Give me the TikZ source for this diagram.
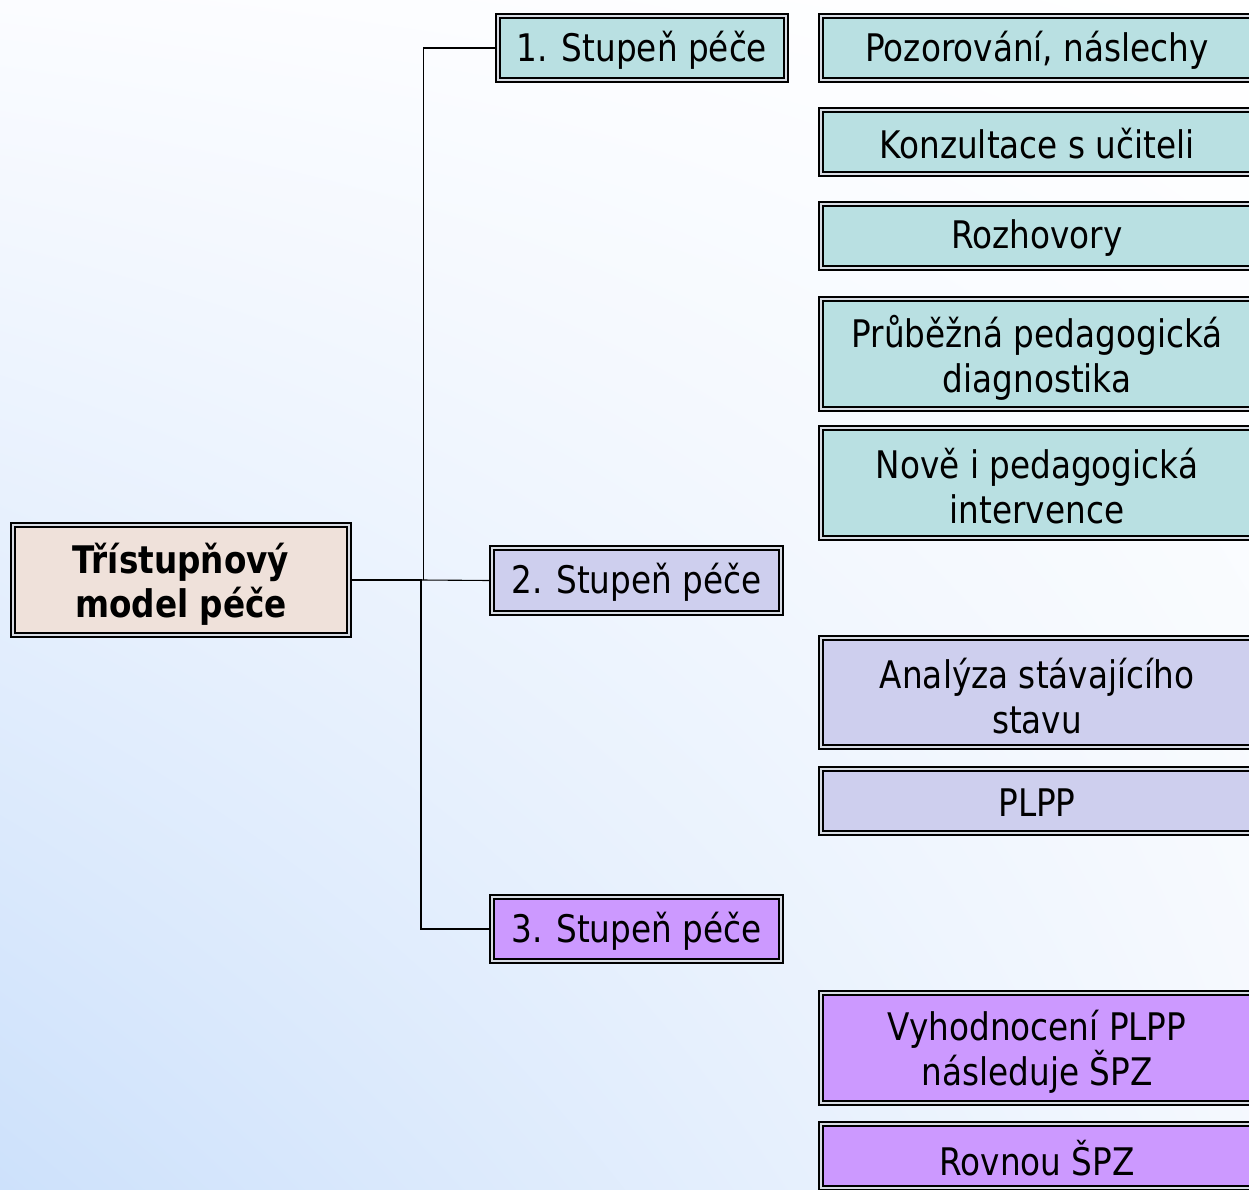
\documentclass[tikz,border=0pt]{standalone}
\usepackage{fontspec}
\usetikzlibrary{shadings}
\setmainfont{DejaVu Sans}[FakeStretch=0.86]
\definecolor{bgblue}{HTML}{CDE1FB}
\definecolor{bgtl}{HTML}{FBFCFF}
\definecolor{bgbr}{HTML}{F4F8FE}
\definecolor{mainfill}{HTML}{EFE1DA}
\definecolor{cyanfill}{HTML}{B9E0E2}
\definecolor{lavfill}{HTML}{CECFEE}
\definecolor{purpfill}{HTML}{CC99FF}
\definecolor{gapcol}{HTML}{D8DCE4}
\tikzset{
  dbox/.style={draw=black, line width=2.3pt, double=gapcol, double distance=1.8pt,
    inner sep=0pt},
  txt/.style={align=center, inner sep=0pt, yshift=-2pt, font=\fontsize{38}{45}\selectfont},
  txttwo/.style={txt, yshift=-1.5pt},
  txtbold/.style={txt, yshift=-2.5pt, font=\fontsize{38}{44}\selectfont\bfseries},
  mainbox/.style={dbox, fill=mainfill, minimum width=336pt, minimum height=110pt},
  stagebox/.style={dbox, minimum width=289pt, minimum height=64pt},
  itembox/.style={dbox, minimum width=432pt},
  oneline/.style={minimum height=64pt},
  twoline/.style={minimum height=110pt},
  conn/.style={draw=black, line width=1.6pt}
}
\begin{document}
\begin{tikzpicture}[x=1pt,y=-1pt]
\useasboundingbox (0,0) rectangle (1249,1189);
\clip (0,0) rectangle (1249,1189);
\shade[lower left=bgblue, upper left=bgtl, upper right=white, lower right=bgbr]
  (0,0) rectangle (1249,1189);

% main and stage nodes
\node[mainbox, label={[txtbold]center:{Třístupňový\\model péče}}] (main) at (181,580) {};
\node[stagebox, fill=cyanfill, minimum width=288pt, label={[txt]center:{1. Stupeň péče}}] (s1) at (642,48) {};
\node[stagebox, fill=lavfill, minimum height=65pt, label={[txt]center:{2. Stupeň péče}}] (s2) at (636.5,580.5) {};
\node[stagebox, fill=purpfill, label={[txt]center:{3. Stupeň péče}}] (s3) at (636.5,929) {};

% items
\node[itembox, oneline, fill=cyanfill, label={[txt]center:{Pozorování, náslechy}}] (a1) at (1037,48) {};
\node[itembox, oneline, fill=cyanfill, label={[txt]center:{Konzultace s učiteli}}] (a2) at (1037,142) {};
\node[itembox, oneline, fill=cyanfill, label={[txt]center:{Rozhovory}}] (a3) at (1037,236) {};
\node[itembox, twoline, fill=cyanfill, label={[txttwo]center:{Průběžná pedagogická\\diagnostika}}] (a4) at (1037,354) {};
\node[itembox, twoline, fill=cyanfill, label={[txttwo]center:{Nově i pedagogická\\intervence}}] (a5) at (1037,483) {};
\node[itembox, twoline, minimum height=109pt, fill=lavfill, label={[txttwo]center:{Analýza stávajícího\\stavu}}] (b1) at (1037,692.5) {};
\node[itembox, oneline, fill=lavfill, label={[txt]center:{PLPP}}] (b2) at (1037,801) {};
\node[itembox, twoline, fill=purpfill, label={[txttwo]center:{Vyhodnocení PLPP\\následuje ŠPZ}}] (c1) at (1037,1048) {};
\node[itembox, oneline, fill=purpfill, label={[txt]center:{Rovnou ŠPZ}}] (c2) at (1037,1156) {};

% connectors
\coordinate (j) at (422,580);
\coordinate (jt) at (423.5,580);
\coordinate (jb) at (421,580);
\draw[conn] (main.east) -- (j);
\draw[conn, line width=1.1pt] (j) -- (s2.west);
\draw[conn, line width=1.3pt] (jt) |- (s1.west);
\draw[conn] (jb) |- (s3.west);
\end{tikzpicture}
\end{document}
